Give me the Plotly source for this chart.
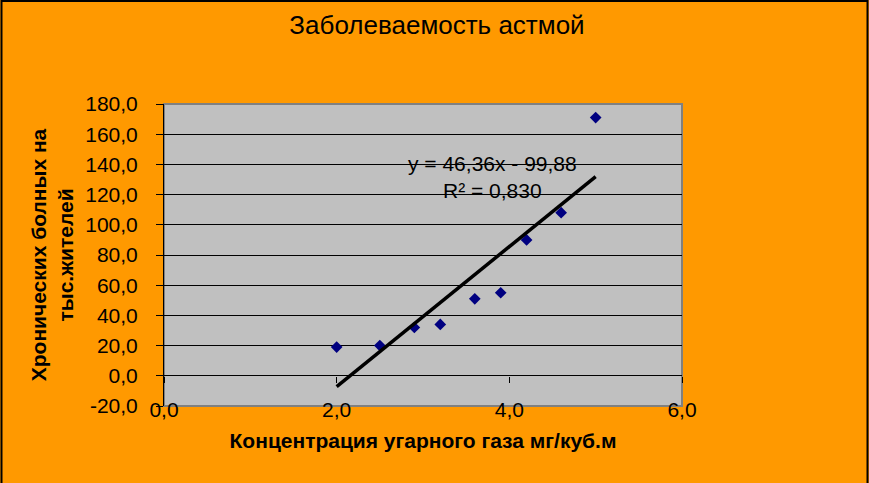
import numpy as np
import plotly.graph_objects as go

# Data
co_conc = [2.0, 2.5, 2.9, 3.2, 3.6, 3.9, 4.2, 4.6, 5.0]
patients = [19, 20, 32, 34, 51, 55, 90, 108, 171]
y_tick_vals = [-20, 0, 20, 40, 60, 80, 100, 120, 140, 160, 180]
y_tick_text = ["-20,0", "0,0", "20,0", "40,0", "60,0", "80,0", "100,0",
               "120,0", "140,0", "160,0", "180,0"]
title_text = "Заболеваемость астмой"
x_title = "Концентрация угарного газа мг/куб.м"
y_title = "Хронических болных на<br>тыс.жителей"
eq_lines = ["y = 46,36x - 99,88", "R² = 0,830"]

W, H = 869, 483
ml, mr, mt, mb = 164, 187, 104, 77
pw, ph = W - ml - mr, H - mt - mb

slope, intercept = np.polyfit(co_conc, patients, 1)
tx = [min(co_conc), max(co_conc)]
ty = [slope * v + intercept for v in tx]

fig = go.Figure()
fig.add_trace(go.Scatter(x=co_conc, y=patients, mode="markers",
                         marker=dict(symbol="diamond", size=9, color="#000080"),
                         showlegend=False, hoverinfo="skip"))
fig.add_trace(go.Scatter(x=tx, y=ty, mode="lines",
                         line=dict(color="black", width=3.5),
                         showlegend=False, hoverinfo="skip"))

font_family = "Liberation Sans, Arial, sans-serif"
fig.update_layout(
    width=W, height=H,
    margin=dict(l=ml, r=mr, t=mt, b=mb),
    paper_bgcolor="#FF9900", plot_bgcolor="#C0C0C0",
    separators=", ",
    font=dict(family=font_family, color="black", size=21),
    title=dict(text=title_text, x=(437) / W, xanchor="center",
               y=1 - 25 / H, yanchor="middle",
               font=dict(size=26, family=font_family, color="black")),
    xaxis=dict(range=[0, 6], dtick=2, tickformat=".1f", showgrid=False,
               zeroline=False, showline=False, ticks="",
               anchor="free", position=0.035,
               tickfont=dict(size=21),
               title=dict(text="<b>" + x_title + "</b>", font=dict(size=21), standoff=12)),
    xaxis2=dict(range=[0, 6], dtick=2, overlaying="x", anchor="free",
                position=0.1, showticklabels=False, showgrid=False,
                zeroline=False, showline=False, ticks="outside", ticklen=6,
                tickcolor="black", tickwidth=1),
    yaxis=dict(range=[-20, 180], tickmode="array", tickvals=y_tick_vals,
               ticktext=y_tick_text,
               showgrid=True, gridcolor="black", gridwidth=1,
               zeroline=True, zerolinecolor="black", zerolinewidth=1,
               showline=True, linecolor="black", linewidth=1,
               ticks="outside", ticklen=7, tickcolor="black",
               ticklabelstandoff=14, tickfont=dict(size=21),
               title=dict(text="<b>" + y_title + "</b>", font=dict(size=21), standoff=5)),
    shapes=[
        dict(type="rect", xref="paper", yref="paper", x0=0, x1=1, y0=0, y1=1,
             line=dict(color="#808080", width=2), layer="below"),
        dict(type="rect", xref="paper", yref="paper",
             x0=(1.5 - ml) / pw, x1=(W - 1.5 - ml) / pw,
             y0=-(mb + 10) / ph, y1=1 + (mt - 1) / ph,
             line=dict(color="black", width=2), fillcolor="rgba(0,0,0,0)"),
    ],
    annotations=[
        dict(x=3.8, y=131.5, xref="x", yref="y", text="<br>".join(eq_lines),
             showarrow=False, align="center", font=dict(size=21, family=font_family)),
    ],
)
fig.add_trace(go.Scatter(x=[None], y=[None], xaxis="x2", showlegend=False))

fig.write_html("out.html", config={"displayModeBar": False},
               post_script="document.body.style.margin='0px';")
